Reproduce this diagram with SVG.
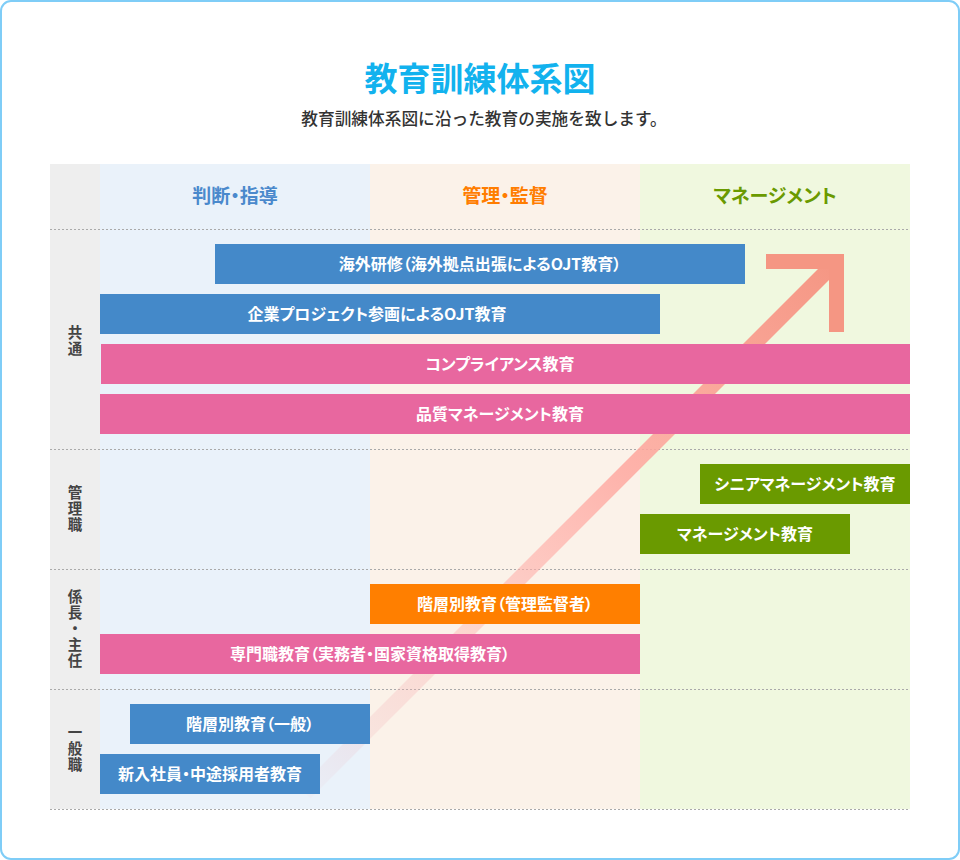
<svg xmlns="http://www.w3.org/2000/svg" width="960" height="860" viewBox="0 0 960 860">
  <defs>
    <linearGradient id="shaftGrad" gradientUnits="userSpaceOnUse" x1="305" y1="793" x2="836" y2="262">
      <stop offset="0" stop-color="#e6a6b4" stop-opacity="0.05"/>
      <stop offset="0.3" stop-color="#ffb4b0" stop-opacity="0.45"/>
      <stop offset="0.6" stop-color="#ffa8a0" stop-opacity="0.85"/>
      <stop offset="1" stop-color="#f59683" stop-opacity="1"/>
    </linearGradient>
    <style>
      .jp { font-family: "Noto Sans CJK JP", "Noto Sans", "Liberation Sans", sans-serif; }
      .bar-t { font-size: 16px; font-weight: 700; fill: #ffffff; text-anchor: middle; font-feature-settings: "palt"; }
      .hdr { font-size: 19px; font-weight: 700; text-anchor: middle; font-feature-settings: "palt"; }
      .vlab { font-size: 14.5px; font-weight: 700; fill: #444444; text-anchor: middle; writing-mode: vertical-rl; letter-spacing: 1.5px; }
      .blue { fill: #4489c9; }
      .pink { fill: #e8679f; }
      .green { fill: #6a9a00; }
      .orange { fill: #ff7f00; }
      .sep { stroke: #aaaaaa; stroke-width: 1; stroke-dasharray: 2 2; fill: none; }
    </style>
  </defs>

  <!-- frame -->
  <rect x="1" y="1" width="958" height="858" rx="10" ry="10" fill="#ffffff" stroke="#7fcdf7" stroke-width="2"/>

  <!-- titles -->
  <g id="title">
    <text class="jp" x="480" y="90.5" font-size="33" font-weight="700" fill="#12b2ee" text-anchor="middle">教育訓練体系図</text>
    <text class="jp" x="484" y="124.5" font-size="16.7" font-weight="500" fill="#333333" text-anchor="middle">教育訓練体系図に沿った教育の実施を致します。</text>
  </g>

  <!-- table backgrounds -->
  <g id="grid">
    <rect x="50" y="164" width="50" height="645" fill="#eeeeee"/>
    <rect x="100" y="164" width="270" height="645" fill="#eaf2fa"/>
    <rect x="370" y="164" width="270" height="645" fill="#fbf2e9"/>
    <rect x="640" y="164" width="270" height="645" fill="#f0f8df"/>
    <line class="sep" x1="50" y1="229.5" x2="910" y2="229.5"/>
    <line class="sep" x1="50" y1="449.5" x2="910" y2="449.5"/>
    <line class="sep" x1="50" y1="569.5" x2="910" y2="569.5"/>
    <line class="sep" x1="50" y1="689.5" x2="910" y2="689.5"/>
    <line class="sep" x1="50" y1="809.5" x2="910" y2="809.5"/>
  </g>

  <!-- column headers -->
  <g id="hdr-shido"><text class="jp hdr" x="235" y="203" fill="#4a89cc">判断・指導</text></g>
  <g id="hdr-kanri"><text class="jp hdr" x="505" y="203" fill="#ff7d00">管理・監督</text></g>
  <g id="hdr-mgmt"><text class="jp hdr" x="775" y="203" fill="#6a9a00">マネージメント</text></g>

  <!-- row labels -->
  <g id="row-kyotsu"><text class="jp vlab" x="75" y="341">共通</text></g>
  <g id="row-kanrishoku"><text class="jp vlab" x="75" y="509">管理職</text></g>
  <g id="row-kakaricho"><text class="jp vlab" x="75" y="629">係長・主任</text></g>
  <g id="row-ippan"><text class="jp vlab" x="75" y="749">一般職</text></g>

  <!-- connectors: growth arrow -->
  <g id="connectors">
    <line x1="305" y1="793" x2="836.5" y2="261.5" stroke="url(#shaftGrad)" stroke-width="15.5" stroke-linecap="butt"/>
    <path d="M766 254 H844 V332 H829 V269 H766 Z" fill="#f59683"/>
  </g>

  <!-- bars -->
  <g id="kaigai-kenshu">
    <rect class="blue" x="215" y="244" width="530" height="40"/>
    <text class="jp bar-t" x="480" y="269.5">海外研修（海外拠点出張によるOJT教育）</text>
  </g>
  <g id="kigyo-project">
    <rect class="blue" x="100" y="294" width="560" height="40"/>
    <text class="jp bar-t" x="377" y="319.5">企業プロジェクト参画によるOJT教育</text>
  </g>
  <g id="compliance">
    <rect class="pink" x="101" y="344" width="809" height="40"/>
    <text class="jp bar-t" x="500" y="369.5">コンプライアンス教育</text>
  </g>
  <g id="hinshitsu">
    <rect class="pink" x="100" y="394" width="810" height="40"/>
    <text class="jp bar-t" x="500" y="419.5">品質マネージメント教育</text>
  </g>
  <g id="senior-mgmt">
    <rect class="green" x="700" y="464" width="210" height="40"/>
    <text class="jp bar-t" x="805" y="489.5">シニアマネージメント教育</text>
  </g>
  <g id="mgmt">
    <rect class="green" x="640" y="514" width="210" height="40"/>
    <text class="jp bar-t" x="745" y="539.5">マネージメント教育</text>
  </g>
  <g id="kaisou-kanri">
    <rect class="orange" x="370" y="584" width="270" height="40"/>
    <text class="jp bar-t" x="505" y="609.5">階層別教育（管理監督者）</text>
  </g>
  <g id="senmon">
    <rect class="pink" x="100" y="634" width="540" height="40"/>
    <text class="jp bar-t" x="370" y="659.5">専門職教育（実務者・国家資格取得教育）</text>
  </g>
  <g id="kaisou-ippan">
    <rect class="blue" x="130" y="704" width="240" height="40"/>
    <text class="jp bar-t" x="250" y="729.5">階層別教育（一般）</text>
  </g>
  <g id="shinnyu">
    <rect class="blue" x="100" y="754" width="220" height="40"/>
    <text class="jp bar-t" x="210" y="779.5">新入社員・中途採用者教育</text>
  </g>
</svg>
